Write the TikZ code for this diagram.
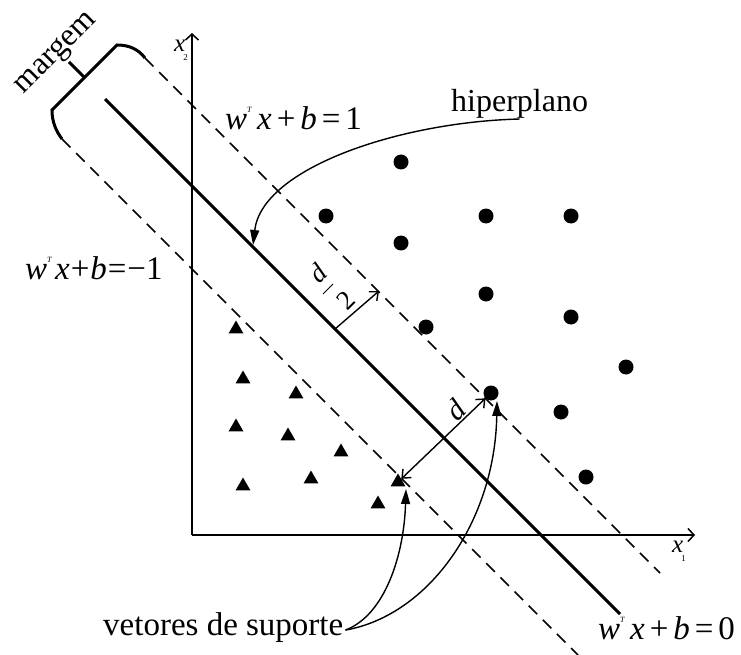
\documentclass[tikz,border=0pt]{standalone}
\usepackage{fontspec}
\setmainfont{Liberation Serif}
\usetikzlibrary{arrows.meta,shapes.geometric}
\newcommand{\supT}{\raisebox{17pt}{\fontsize{8}{8}\selectfont\textit{T}}}
\begin{document}
\begin{tikzpicture}[x=1pt,y=-1pt,
  dot/.style={circle,fill=black,inner sep=0pt,minimum size=15pt},
  tri/.style={regular polygon,regular polygon sides=3,fill=black,inner sep=0pt,minimum size=17pt},
  txt/.style={font=\fontsize{32}{32}\selectfont,inner sep=0pt},
  eq/.style={font=\fontsize{33}{33}\selectfont,inner sep=0pt},
  axis/.style={line width=1.8pt,-{Straight Barb[length=6pt,width=13pt,line width=1.5pt]}},
  hyper/.style={line width=3pt},
  marginline/.style={line width=1.5pt,dash pattern=on 12pt off 8pt},
  dim/.style={line width=1.4pt,{Straight Barb[length=7pt,width=12pt]}-{Straight Barb[length=7pt,width=12pt]}},
  halfdim/.style={line width=1.4pt,-{Straight Barb[length=7pt,width=12pt]}},
  pointer/.style={line width=1.4pt,-{Triangle[length=15pt,width=9pt]}}
]
\useasboundingbox (0,0) rectangle (741,655);

% axes
\coordinate (O) at (192,535);
\coordinate (Ytop) at (192,33);
\coordinate (Xend) at (695,535);
\draw[axis] (O) -- (Ytop);
\draw[axis] (O) -- (Xend);
\node[inner sep=0pt,font=\fontsize{25}{25}\selectfont] (x2) at (181,50) {\textit{x}\kern-2pt\raisebox{-9pt}{\fontsize{9}{9}\selectfont 2}};
\node[inner sep=0pt,font=\fontsize{25}{25}\selectfont] (x1) at (679,551) {\textit{x}\kern-2pt\raisebox{-9pt}{\fontsize{9}{9}\selectfont 1}};

% hyperplane and margins
\coordinate (H1) at (105,99);
\coordinate (H2) at (620,614);
\draw[hyper] (H1) -- (H2);
\coordinate (U1) at (145,58);
\coordinate (U2) at (660,573);
\draw[marginline] (U1) -- (U2);
\coordinate (L1) at (62,139);
\coordinate (L2) at (578,655);
\draw[marginline] (L1) -- (L2);

% brace
\coordinate (B1) at (117,45);
\coordinate (B2) at (52,110);
\coordinate (BM) at (84.5,77.5);
\coordinate (BT) at (69,62);
\draw[line width=3pt] (U1) .. controls (138,49) and (129,45) .. (B1) -- (B2) .. controls (52,122) and (56,131) .. (L1);
\draw[line width=3pt] (BM) -- (BT);
\node[txt,rotate=45] (mg) at (57,54) {margem};

% circles
\node[dot] (c1) at (401,162) {};
\node[dot] (c2) at (326,216) {};
\node[dot] (c3) at (486,216) {};
\node[dot] (c4) at (571,216) {};
\node[dot] (c5) at (401,243) {};
\node[dot] (c6) at (486,294) {};
\node[dot] (c7) at (571,317) {};
\node[dot] (c8) at (426,327) {};
\node[dot] (c9) at (626,367) {};
\node[dot] (c10) at (491,393) {};
\node[dot] (c11) at (561,412) {};
\node[dot] (c12) at (586,477) {};

% triangles
\node[tri] (t1) at (236,329) {};
\node[tri] (t2) at (243,379) {};
\node[tri] (t3) at (296,394) {};
\node[tri] (t4) at (236,427) {};
\node[tri] (t5) at (288,436) {};
\node[tri] (t6) at (341,452) {};
\node[tri] (t7) at (243,486) {};
\node[tri] (t8) at (311,479) {};
\node[tri] (t9) at (378,504) {};
\node[tri] (t10) at (398,482) {};

% distances
\coordinate (hm) at (335,329);
\coordinate (um) at (379,291);
\draw[halfdim] (hm) -- (um);
\node[inner sep=0pt,rotate=45,font=\fontsize{27}{27}\selectfont\itshape] (dh) at (318,273) {d};
\node[inner sep=0pt,rotate=45,font=\fontsize{27}{27}\selectfont] (two) at (346,300) {2};
\draw[line width=0.8pt] (323,294) -- (333,284);
\draw[dim] (t10) -- (c10);
\node[inner sep=0pt,rotate=45,font=\fontsize{30}{30}\selectfont\itshape] (dl) at (456,410) {d};

% equations
\node[eq,anchor=base west] (e1) at (225,130) {\textit{w}\supT\hspace{5pt}\textit{x}\hspace{5pt}+\hspace{5pt}\textit{b}\hspace{5pt}=\hspace{5pt}1};
\node[eq,anchor=base west] (e2) at (25,279) {\textit{w}\supT\hspace{3pt}\textit{x}\hspace{1pt}+\hspace{1pt}\textit{b}\hspace{1pt}=\hspace{1pt}−1};
\node[eq,anchor=base west] (e0) at (598,639) {\textit{w}\supT\hspace{5pt}\textit{x}\hspace{5pt}+\hspace{5pt}\textit{b}\hspace{5pt}=\hspace{5pt}0};

% hyperplane label
\node[txt,anchor=base west] (hp) at (451,112) {hiperplano};
\coordinate (hpTip) at (253,245);
\draw[pointer] (hp.south) .. controls (400,122) and (262,168) .. (hpTip);

% support vectors label
\node[txt,anchor=base west,font=\fontsize{33}{33}\selectfont] (vs) at (103,635) {vetores de suporte};
\coordinate (s1) at (406,489);
\coordinate (s2) at (497,401);
\draw[pointer] ([xshift=2pt,yshift=-3pt]vs.east) .. controls (385,615) and (404,555) .. (s1);
\draw[pointer] ([xshift=2pt,yshift=-3pt]vs.east) .. controls (430,615) and (495,520) .. (s2);
\end{tikzpicture}
\end{document}
